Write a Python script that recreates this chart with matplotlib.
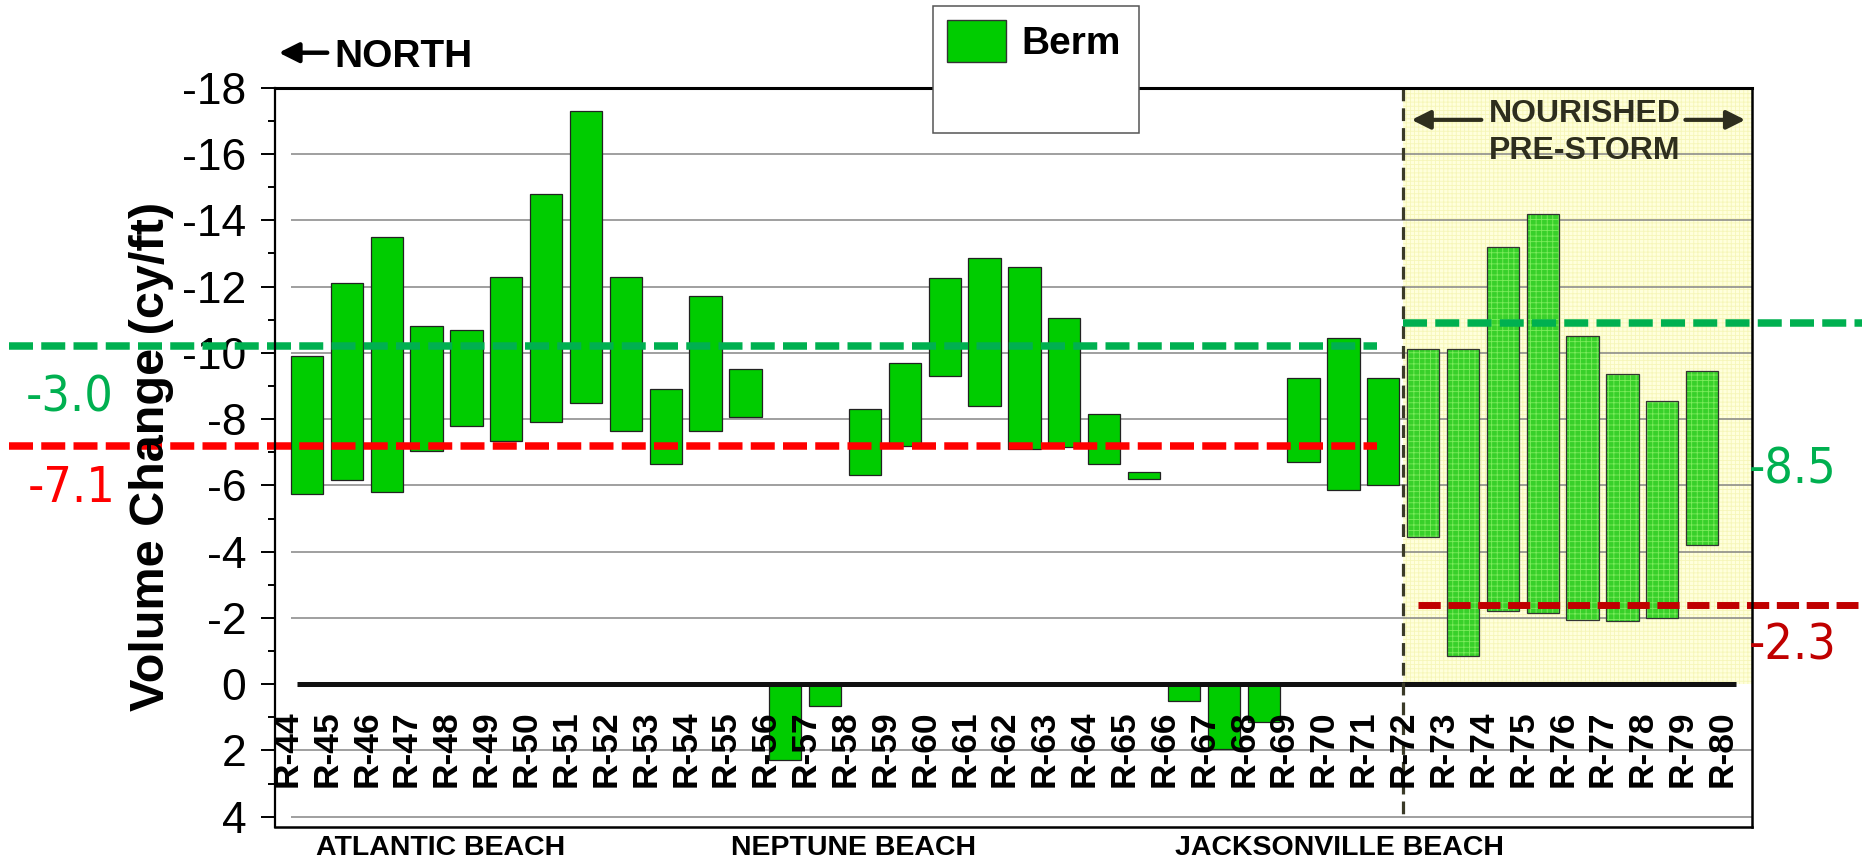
import matplotlib
matplotlib.use("Agg")
import matplotlib.pyplot as plt
from matplotlib.patches import Rectangle, Patch

plt.rcParams['font.family'] = ['Liberation Sans', 'DejaVu Sans']
plt.rcParams['axes.unicode_minus'] = False
plt.rcParams['hatch.linewidth'] = 0.6

# condensed face for the average-value labels
NARROW = dict(family='DejaVu Sans', stretch='condensed')

# -- data ------------------------------------------------------------------
profiles = ["R-%d" % n for n in range(44, 81)]
# each bar floats between these two values (cy/ft); None = no bar
berm_top = [-9.9, -12.1, -13.5, -10.8, -10.7, -12.3, -14.8, -17.3, -12.3, -8.9,
            -11.7, -9.5, 0.0, 0.0, -8.3, -9.7, -12.25, -12.85, -12.6, -11.05,
            -8.15, -6.4, 0.0, 0.0, 0.0, -9.25, -10.45, -9.25,
            -10.1, -10.1, -13.2, -14.2, -10.5, -9.35, -8.55, -9.45, None]
berm_bottom = [-5.75, -6.15, -5.8, -7.05, -7.8, -7.35, -7.9, -8.5, -7.65, -6.65,
               -7.65, -8.05, 2.3, 0.65, -6.3, -7.2, -9.3, -8.4, -7.1, -7.15,
               -6.65, -6.2, 0.5, 1.95, 1.15, -6.7, -5.85, -6.0,
               -4.45, -0.85, -2.2, -2.15, -1.95, -1.9, -2.0, -4.2, None]
nourished_start = "R-72"

region_names = ["ATLANTIC BEACH", "NEPTUNE BEACH", "JACKSONVILLE BEACH"]

north_upper = -10.2     # green dashed, labelled -3.0
north_lower = -7.2      # red dashed, labelled -7.1
nourished_upper = -10.9  # green dashed, labelled -8.5
nourished_lower = -2.4   # dark red dashed, labelled -2.3
line_labels = ["-3.0", "-7.1", "-8.5", "-2.3"]

# -- figure ----------------------------------------------------------------
W, H = 1867, 859
def fx(px):
    return px / W
def fy(py):
    return 1 - py / H

fig = plt.figure(figsize=(W / 100, H / 100), dpi=100)
ax = fig.add_axes([fx(274.5), fy(826.7), 1477.5 / W, 739 / H])
xmin, xmax = -0.314, 36.75
ax.set_xlim(xmin, xmax)
ax.set_ylim(4.3, -18)

ns = profiles.index(nourished_start)

# nourished (pre-storm) background
ax.add_patch(Rectangle((ns, -18), xmax - ns, 18, facecolor='#ffffdc',
                       edgecolor='#f6f6b8', hatch='++++', lw=0, zorder=0.5))

# gridlines
for v in range(-16, 6, 2):
    if v != 0:
        ax.hlines(v, 0.1, xmax, color='#858585', lw=1.1, zorder=1)

# bars
for i, (top, bot) in enumerate(zip(berm_top, berm_bottom)):
    if top is None:
        continue
    if i < ns:
        ax.bar(i + 0.5, bot - top, bottom=top, width=0.81, color='#00cc00',
               edgecolor='#222222', lw=0.9, zorder=3)
    else:
        ax.bar(i + 0.5, bot - top, bottom=top, width=0.81, color='#38d02a',
               edgecolor='#7cec5c', hatch='+++', lw=0, zorder=3)
        ax.bar(i + 0.5, bot - top, bottom=top, width=0.81, fill=False,
               edgecolor='#333333', lw=0.9, zorder=3.1)

ax.hlines(0, 0.25, 36.36, color='#111111', lw=3.6, zorder=4)

# nourished boundary
ax.plot([ns, ns], [-18, 4], color='#3a3a28', lw=2.3, ls=(0, (4.0, 2.2)),
        zorder=5, clip_on=False)

# average lines
dash = (0, (3.2, 1.1))
ax.plot([-6.97, ns - 0.65], [north_upper] * 2, color='#00b050', lw=5.4,
        ls=dash, zorder=6, clip_on=False)
ax.plot([-6.97, ns - 0.65], [north_lower] * 2, color='#ff0000', lw=5.4,
        ls=dash, zorder=6, clip_on=False)
ax.plot([ns, 39.5], [nourished_upper] * 2, color='#00b050', lw=5.4,
        ls=dash, zorder=6, clip_on=False)
ax.plot([ns + 0.36, 39.4], [nourished_lower] * 2, color='#c00000', lw=5.0,
        ls=dash, zorder=6, clip_on=False)

fig.text(fx(70), fy(411), line_labels[0], color='#00b050', fontsize=36,
         ha='center', va='baseline', **NARROW)
fig.text(fx(72), fy(502), line_labels[1], color='#ff0000', fontsize=36,
         ha='center', va='baseline', **NARROW)
fig.text(fx(1793), fy(483), line_labels[2], color='#00b050', fontsize=36,
         ha='center', va='baseline', **NARROW)
fig.text(fx(1793), fy(660), line_labels[3], color='#c00000', fontsize=36,
         ha='center', va='baseline', **NARROW)

# profile labels sit inside the plot, below zero
for i, name in enumerate(profiles):
    ax.text(i, 0.8, name, rotation=90, ha='center', va='top',
            fontsize=25.5, fontweight='bold', zorder=7)

# region names under the frame
for xpos, name in zip([3.84, 14.22, 26.39], region_names):
    ax.text(xpos, -0.0383, name, transform=ax.get_xaxis_transform(),
            ha='center', va='baseline', fontsize=20.5, fontweight='bold')

# nourished annotation
ax.text(32.55, -16.96, "NOURISHED", ha='center', va='baseline', fontsize=23,
        fontweight='bold', color='#2e2e1e', zorder=7)
ax.text(32.55, -15.85, "PRE-STORM", ha='center', va='baseline', fontsize=23,
        fontweight='bold', color='#2e2e1e', zorder=7)
arrow = dict(arrowstyle='-|>', lw=3, color='#2e2e1e', mutation_scale=28)
ax.annotate("", xy=(28.14, -17.03), xytext=(30.03, -17.03), arrowprops=arrow)
ax.annotate("", xy=(36.65, -17.03), xytext=(35.01, -17.03), arrowprops=arrow)

# north marker
ax.annotate("", xy=(fx(276), fy(52.7)), xytext=(fx(330), fy(52.7)),
            xycoords='figure fraction', textcoords='figure fraction',
            arrowprops=dict(arrowstyle='-|>', lw=3.2, color='black', mutation_scale=30))
fig.text(fx(334), fy(67), "NORTH", fontsize=28, fontweight='bold', va='baseline')

# axes styling
ax.set_xticks([])
ax.set_yticks(range(-18, 5, 2))
ax.set_yticklabels([str(v) for v in range(-18, 5, 2)])
ax.set_yticks(range(-17, 5, 2), minor=True)
ax.tick_params(axis='y', which='major', length=10.4, width=1.4, pad=10,
               labelsize=32, direction='out')
ax.tick_params(axis='y', which='minor', length=5.4, width=1.4, direction='out')
for side, lw in [('left', 1.6), ('right', 1.8), ('top', 2.2), ('bottom', 1.8)]:
    ax.spines[side].set_linewidth(lw)
    ax.spines[side].set_color('black')
    ax.spines[side].set_zorder(8)

fig.text(fx(151.5), fy(456), "Volume Change (cy/ft)", rotation=90,
         fontsize=35, fontweight='bold', ha='center', va='center')

# legend box overlapping the top frame
fig.add_artist(Rectangle((fx(932.5), fy(132.7)), 206.5 / W, 126.7 / H,
                         transform=fig.transFigure, facecolor='white',
                         edgecolor='#555555', lw=1.1, zorder=10))
leg = fig.legend(handles=[Patch(facecolor='#00cc00', edgecolor='#333333', label='Berm')],
                 loc='upper left', bbox_to_anchor=(fx(946.7), fy(20)), frameon=False,
                 prop={'size': 28, 'weight': 'bold'}, handlelength=1.52,
                 handleheight=1.3, handletextpad=0.41, borderpad=0, borderaxespad=0)
leg.set_zorder(11)

fig.savefig("out.png", dpi=100)
